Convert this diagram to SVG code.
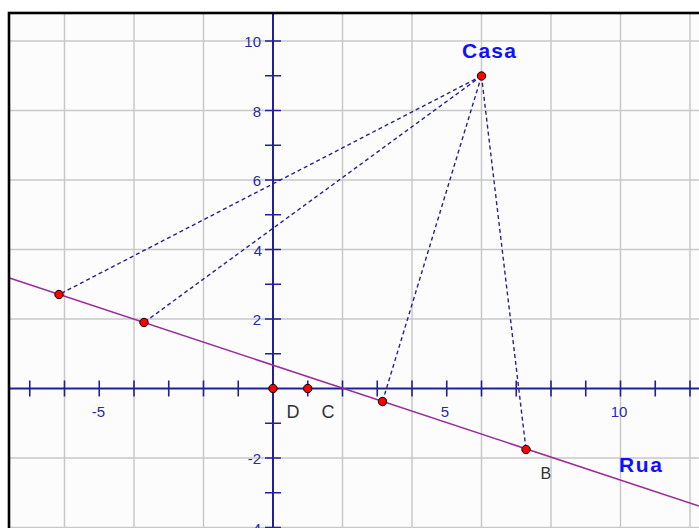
<svg xmlns="http://www.w3.org/2000/svg" width="699" height="528" viewBox="0 0 699 528">
<style>
.grid{stroke:#c8c8c8;stroke-width:1.5;fill:none}
.axis{stroke:#20209a;stroke-width:2;fill:none}
.tick{stroke:#20209a;stroke-width:1.6}
.al{font-family:"Liberation Sans",Arial,sans-serif;font-size:15px;fill:#2a2aa8}
.dash{stroke:#24248f;stroke-width:1.4;stroke-dasharray:4 3;fill:none}
.pt{fill:#ff0000;stroke:#000;stroke-width:1}
.lbl{font-family:"Liberation Sans",Arial,sans-serif;font-size:18px;fill:#333}
.big{font-family:"Liberation Sans",Arial,sans-serif;font-size:21px;font-weight:bold;fill:#1010ff}
</style>
<rect x="0" y="0" width="699" height="528" fill="#ffffff"/>
<rect x="9" y="13" width="690" height="515" fill="#fcfcfc"/>
<g id="grid" class="grid">
<path d="M64.5 13V528M134 13V528M203.5 13V528M342.5 13V528M412 13V528M481.5 13V528M551 13V528M620.5 13V528M690 13V528"/>
<path d="M9 41H699M9 110.5H699M9 180H699M9 249.5H699M9 319H699M9 458H699M9 527.5H699"/>
</g>
<g id="axes">
<path class="axis" d="M9 388.5H699M273 13V528"/>
<path class="tick" d="M29.75 380.5v16M64.5 380.5v16M99.25 380.5v16M134 380.5v16M168.75 380.5v16M203.5 380.5v16M238.25 380.5v16M307.75 380.5v16M342.5 380.5v16M377.25 380.5v16M412 380.5v16M446.75 380.5v16M481.5 380.5v16M516.25 380.5v16M551 380.5v16M585.75 380.5v16M620.5 380.5v16M655.25 380.5v16M690 380.5v16"/>
<path class="tick" d="M265 41h16M265 75.75h16M265 110.5h16M265 145.25h16M265 180h16M265 214.75h16M265 249.5h16M265 284.25h16M265 319h16M265 353.75h16M265 423.25h16M265 458h16M265 492.75h16M265 527.5h16"/>
<g class="al" text-anchor="middle">
<text x="98.5" y="417">-5</text>
<text x="445" y="417">5</text>
<text x="619" y="417">10</text>
</g>
<g class="al" text-anchor="end">
<text x="261" y="47">10</text>
<text x="261" y="116.5">8</text>
<text x="261" y="186">6</text>
<text x="262" y="255.5">4</text>
<text x="261" y="325">2</text>
<text x="261" y="464">-2</text>
<text x="261" y="533.5">-4</text>
</g>
</g>
<g id="rua">
<line x1="9.5" y1="278" x2="699" y2="506" stroke="#9c2c9c" stroke-width="1.6"/>
<text class="big" x="619" y="472" textLength="43" lengthAdjust="spacing">Rua</text>
</g>
<g id="connectors">
<line class="dash" x1="481.5" y1="76" x2="59" y2="294.5"/>
<line class="dash" x1="481.5" y1="76" x2="144" y2="322.5"/>
<line class="dash" x1="481.5" y1="76" x2="382.5" y2="401.5"/>
<line class="dash" x1="481.5" y1="76" x2="526" y2="449.5"/>
</g>
<rect x="9" y="13" width="700" height="530" fill="none" stroke="#000" stroke-width="2.6"/>
<g id="casa">
<circle class="pt" cx="481.5" cy="76" r="4.2"/>
<text class="big" x="462" y="58" textLength="54" lengthAdjust="spacing">Casa</text>
</g>
<g id="p1"><circle class="pt" cx="59" cy="294.5" r="4.2"/></g>
<g id="p2"><circle class="pt" cx="144" cy="322.5" r="4.2"/></g>
<g id="p3"><circle class="pt" cx="382.5" cy="401.5" r="4.2"/></g>
<g id="B"><circle class="pt" cx="526" cy="449.5" r="4.2"/><text class="lbl" x="540.5" y="478.5" style="font-size:16px">B</text></g>
<g id="D"><circle class="pt" cx="273" cy="388.5" r="4.2"/><text class="lbl" x="286.5" y="417.5">D</text></g>
<g id="C"><circle class="pt" cx="307.75" cy="388.5" r="4.2"/><text class="lbl" x="321.5" y="417.5">C</text></g>
</svg>
